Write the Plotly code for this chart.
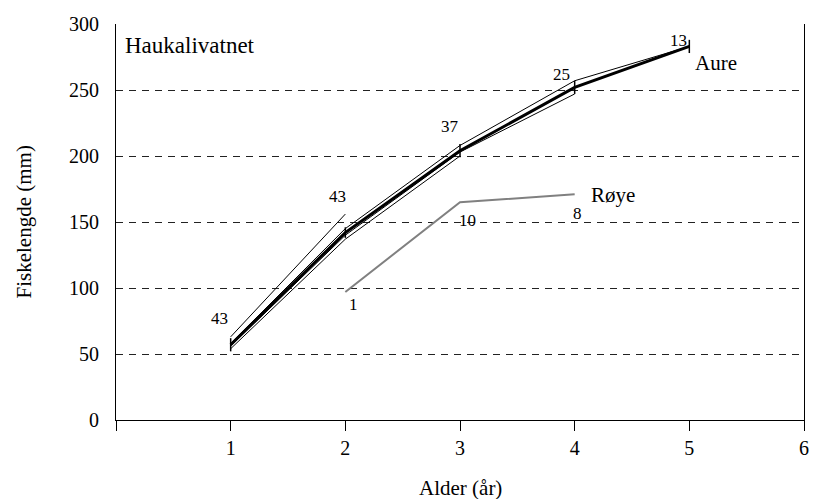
import plotly.graph_objects as go

# ---- data ----
ages = [1, 2, 3, 4, 5]
aure_mean = [57, 142, 204, 252, 283]
aure_err = [5, 4, 5, 5, 5]
aure_n = [43, 43, 37, 25, 13]

# back-calculated growth per age group (ages 1..k)
aure_age2 = [63, 156]
aure_age3 = [54, 137, 200]
aure_age4 = [56, 140, 203, 247]
aure_age5 = [58, 145, 208, 257, 283]

roye_ages = [2, 3, 4]
roye_mean = [97, 165, 171]
roye_n = [1, 10, 8]

x_ticks = [0, 1, 2, 3, 4, 5, 6]
x_ticktext = ["", "1", "2", "3", "4", "5", "6"]
y_ticks = [0, 50, 100, 150, 200, 250, 300]

FONT = "Liberation Serif, Times New Roman, serif"

fig = go.Figure()

for grp in [aure_age2, aure_age3, aure_age4, aure_age5]:
    fig.add_trace(go.Scatter(x=ages[:len(grp)], y=grp, mode="lines",
                             line=dict(color="black", width=1), showlegend=False,
                             hoverinfo="skip"))

fig.add_trace(go.Scatter(x=ages, y=aure_mean, mode="lines",
                         line=dict(color="black", width=3),
                         error_y=dict(type="data", array=aure_err, visible=True,
                                      color="black", thickness=1.5, width=0),
                         showlegend=False))

fig.add_trace(go.Scatter(x=roye_ages, y=roye_mean, mode="lines",
                         line=dict(color="#808080", width=2), showlegend=False))

# invisible trace for right border axis
fig.add_trace(go.Scatter(x=[None], y=[None], yaxis="y2", showlegend=False))

ann = []
aure_off = [(-11, 26), (-8, 36), (-10, 24), (-13, 13), (-11, 6)]
for a, v, n, (dx, dy) in zip(ages, aure_mean, aure_n, aure_off):
    ann.append(dict(x=a, y=v, text=str(n), showarrow=False, xshift=dx, yshift=dy,
                    font=dict(family=FONT, size=17, color="black")))
roye_off = [(8, -13), (7, -18), (3, -19)]
for a, v, n, (dx, dy) in zip(roye_ages, roye_mean, roye_n, roye_off):
    ann.append(dict(x=a, y=v, text=str(n), showarrow=False, xshift=dx, yshift=dy,
                    font=dict(family=FONT, size=17, color="black")))

# species labels
ann.append(dict(x=roye_ages[-1], y=roye_mean[-1], text="Røye", showarrow=False,
                xanchor="left", xshift=14, yshift=-1,
                font=dict(family=FONT, size=21, color="black")))
ann.append(dict(x=ages[-1], y=aure_mean[-1], text="Aure", showarrow=False,
                xanchor="left", xshift=4, yshift=-17,
                font=dict(family=FONT, size=21, color="black")))

ann.append(dict(xref="paper", yref="paper", x=0.01, y=0.945, text="Haukalivatnet",
                showarrow=False, xanchor="left", yanchor="middle",
                font=dict(family=FONT, size=23, color="black")))
ann.append(dict(xref="paper", yref="paper", x=-0.133, y=0.5, text="Fiskelengde (mm)",
                showarrow=False, textangle=-90, xanchor="center", yanchor="middle",
                font=dict(family=FONT, size=21, color="black")))
ann.append(dict(xref="paper", yref="paper", x=0.5, y=-0.172, text="Alder (år)",
                showarrow=False, xanchor="center", yanchor="middle",
                font=dict(family=FONT, size=21, color="black")))

fig.update_layout(
    width=820, height=499,
    margin=dict(l=116, r=11, t=24, b=79),
    paper_bgcolor="white", plot_bgcolor="white",
    showlegend=False,
    annotations=ann,
    xaxis=dict(range=[0, 6], tickvals=x_ticks, ticktext=x_ticktext,
               showline=True, linecolor="black", linewidth=1,
               ticks="outside", ticklen=10, tickcolor="black", tickwidth=1,
               showgrid=False, zeroline=False,
               tickfont=dict(family=FONT, size=20, color="black")),
    yaxis=dict(range=[0, 300], tickvals=y_ticks,
               showline=True, linecolor="black", linewidth=1,
               ticks="", showgrid=True, gridcolor="#222", gridwidth=1,
               griddash="7px,6px", zeroline=False, ticklabelstandoff=12,
               tickfont=dict(family=FONT, size=20, color="black")),
    yaxis2=dict(range=[0, 300], overlaying="y", side="right", showline=True,
                linecolor="black", linewidth=1, showticklabels=False,
                showgrid=False, zeroline=False, ticks=""),
)

fig.write_html("out.html")
